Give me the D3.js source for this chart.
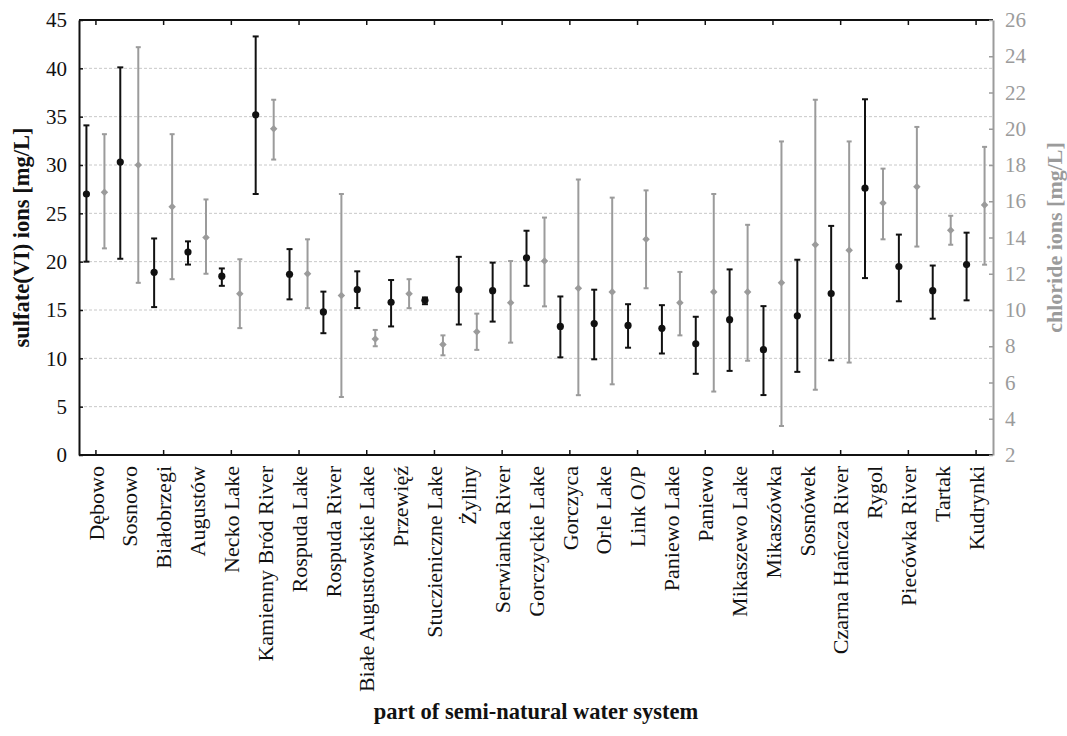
<!DOCTYPE html>
<html>
<head>
<meta charset="utf-8">
<script src="https://cdn.jsdelivr.net/npm/d3@7"></script>
<style>
  body { margin: 0; background: #fff; }
  svg text { font-family: "Liberation Serif", "Times New Roman", serif; }
</style>
</head>
<body>
<div id="chart"></div>
<script>
var categories = ['Dębowo', 'Sosnowo', 'Białobrzegi', 'Augustów', 'Necko Lake', 'Kamienny Bród River',
  'Rospuda Lake', 'Rospuda River', 'Białe Augustowskie Lake', 'Przewięź', 'Stuczieniczne Lake', 'Żyliny',
  'Serwianka River', 'Gorczyckie Lake', 'Gorczyca', 'Orle Lake', 'Link O/P', 'Paniewo Lake', 'Paniewo',
  'Mikaszewo Lake', 'Mikaszówka', 'Sosnówek', 'Czarna Hańcza River', 'Rygol', 'Piecówka River', 'Tartak', 'Kudrynki']

var sulfateMean = [27.0, 30.3, 18.9, 21.0, 18.5, 35.2, 18.7, 14.8, 17.1, 15.8, 16.0, 17.1, 17.0, 20.4,
  13.3, 13.6, 13.4, 13.1, 11.5, 14.0, 10.9, 14.4, 16.7, 27.6, 19.5, 17.0, 19.7]
var sulfateLow = [20.0, 20.3, 15.3, 19.7, 17.5, 27.0, 16.1, 12.6, 15.2, 13.3, 15.6, 13.5, 13.8, 17.5,
  10.1, 9.9, 11.1, 10.5, 8.4, 8.7, 6.2, 8.6, 9.8, 18.3, 15.9, 14.1, 16.0]
var sulfateHigh = [34.1, 40.1, 22.4, 22.1, 19.3, 43.3, 21.3, 16.9, 19.0, 18.1, 16.3, 20.5, 19.9, 23.2,
  16.4, 17.1, 15.6, 15.5, 14.3, 19.2, 15.4, 20.2, 23.7, 36.8, 22.8, 19.6, 23.0]

var chlorideMean = [16.5, 18.0, 15.7, 14.0, 10.9, 20.0, 12.0, 10.8, 8.4, 10.9, 8.1, 8.8, 10.4, 12.7,
  11.2, 11.0, 13.9, 10.4, 11.0, 11.0, 11.5, 13.6, 13.3, 15.9, 16.8, 14.4, 15.8]
var chlorideLow = [13.4, 11.5, 11.7, 12.0, 9.0, 18.3, 10.1, 5.2, 8.0, 10.1, 7.5, 7.8, 8.2, 10.2,
  5.3, 5.9, 11.2, 8.6, 5.5, 7.2, 3.6, 5.6, 7.1, 13.9, 13.5, 13.6, 12.5]
var chlorideHigh = [19.7, 24.5, 19.7, 16.1, 12.8, 21.6, 13.9, 16.4, 8.9, 11.7, 8.6, 9.8, 12.7, 15.1,
  17.2, 16.2, 16.6, 12.1, 16.4, 14.7, 19.3, 21.6, 19.3, 17.8, 20.1, 15.2, 19.0]

var leftTicks = [0, 5, 10, 15, 20, 25, 30, 35, 40, 45]
var rightTicks = [2, 4, 6, 8, 10, 12, 14, 16, 18, 20, 22, 24, 26]

var margin = {top: 20, right: 74, bottom: 281, left: 79}
var width = 1067 - margin.left - margin.right,
    height = 736 - margin.top - margin.bottom

var black = '#111', grey = '#9b9b9b'

var svg = d3.select('#chart').append('svg')
  .attr('width', 1067)
  .attr('height', 736)
  .append('g')
  .attr('transform', 'translate(' + margin.left + ',' + margin.top + ')')

var x = d3.scalePoint().domain(categories).range([0, width]).padding(0.5)
var yLeft = d3.scaleLinear().domain([0, 45]).range([height, 0])
var yRight = d3.scaleLinear().domain([2, 26]).range([height, 0])

// grid
svg.append('g')
  .selectAll('line')
  .data(leftTicks.filter(d => d > 0 && d < 45))
  .enter().append('line')
  .attr('x1', 0).attr('x2', width)
  .attr('y1', d => yLeft(d)).attr('y2', d => yLeft(d))
  .attr('stroke', '#c8c8c8')
  .attr('stroke-width', 1)
  .attr('stroke-dasharray', '3,2')

// frame top + bottom
svg.append('line').attr('x1', 0).attr('x2', width).attr('y1', 0).attr('y2', 0)
  .attr('stroke', black).attr('stroke-width', 2)
svg.append('line').attr('x1', 0).attr('x2', width).attr('y1', height).attr('y2', height)
  .attr('stroke', black).attr('stroke-width', 2)

// x ticks on every second category, inward top and bottom
var tickCats = categories.filter((d, i) => i % 2 === 0)
svg.append('g').selectAll('line').data(tickCats).enter().append('line')
  .attr('x1', d => x(d)).attr('x2', d => x(d))
  .attr('y1', height).attr('y2', height - 5)
  .attr('stroke', black).attr('stroke-width', 1.5)
svg.append('g').selectAll('line').data(tickCats).enter().append('line')
  .attr('x1', d => x(d)).attr('x2', d => x(d))
  .attr('y1', 0).attr('y2', 5)
  .attr('stroke', black).attr('stroke-width', 1.5)

// left axis
var yAxisLeft = d3.axisLeft(yLeft).tickValues(leftTicks).tickSizeInner(-4).tickSizeOuter(0).tickPadding(12)
var gl = svg.append('g').attr('class', 'axis y-axis').call(yAxisLeft)
gl.select('.domain').attr('stroke', black).attr('stroke-width', 2)
gl.selectAll('.tick line').attr('stroke', black).attr('stroke-width', 1.5)
gl.selectAll('.tick text').attr('font-size', 21).attr('fill', '#111')
  .style('font-family', '"Liberation Serif", serif')

// right axis
var yAxisRight = d3.axisRight(yRight).tickValues(rightTicks).tickSizeInner(-4).tickSizeOuter(0).tickPadding(12)
var gr = svg.append('g').attr('class', 'axis y-axis-right')
  .attr('transform', 'translate(' + width + ',0)')
  .call(yAxisRight)
gr.select('.domain').attr('stroke', grey).attr('stroke-width', 2)
gr.selectAll('.tick line').attr('stroke', grey).attr('stroke-width', 1.5)
gr.selectAll('.tick text').attr('font-size', 21).attr('fill', grey)
  .style('font-family', '"Liberation Serif", serif')

// category labels
svg.append('g').selectAll('text').data(categories).enter().append('text')
  .attr('transform', d => 'translate(' + x(d) + ',' + (height + 11) + ') rotate(-90)')
  .attr('text-anchor', 'end')
  .attr('dy', '0.35em')
  .attr('font-size', 22)
  .attr('fill', '#111')
  .text(d => d)

// series rows
var rows = categories.map(function (c, i) {
  return {
    cat: c,
    s: sulfateMean[i], sLo: sulfateLow[i], sHi: sulfateHigh[i],
    c: chlorideMean[i], cLo: chlorideLow[i], cHi: chlorideHigh[i]
  }
})

var offS = -9.5, offC = 8.5

// chloride (grey) error bars + diamonds
var gC = svg.append('g').selectAll('g').data(rows).enter().append('g')
  .attr('transform', d => 'translate(' + (x(d.cat) + offC) + ',0)')
gC.append('line')
  .attr('y1', d => yRight(d.cLo)).attr('y2', d => yRight(d.cHi))
  .attr('stroke', grey).attr('stroke-width', 2)
gC.append('line')
  .attr('x1', -2.5).attr('x2', 2.5)
  .attr('y1', d => yRight(d.cHi)).attr('y2', d => yRight(d.cHi))
  .attr('stroke', grey).attr('stroke-width', 2)
gC.append('line')
  .attr('x1', -2.5).attr('x2', 2.5)
  .attr('y1', d => yRight(d.cLo)).attr('y2', d => yRight(d.cLo))
  .attr('stroke', grey).attr('stroke-width', 2)
gC.append('path')
  .attr('d', d3.symbol().type(d3.symbolDiamond2).size(36))
  .attr('transform', d => 'translate(0,' + yRight(d.c) + ')')
  .attr('fill', grey)

// sulfate (black) error bars + dots
var gS = svg.append('g').selectAll('g').data(rows).enter().append('g')
  .attr('transform', d => 'translate(' + (x(d.cat) + offS) + ',0)')
gS.append('line')
  .attr('y1', d => yLeft(d.sLo)).attr('y2', d => yLeft(d.sHi))
  .attr('stroke', black).attr('stroke-width', 2)
gS.append('line')
  .attr('x1', -3).attr('x2', 3)
  .attr('y1', d => yLeft(d.sHi)).attr('y2', d => yLeft(d.sHi))
  .attr('stroke', black).attr('stroke-width', 2)
gS.append('line')
  .attr('x1', -3).attr('x2', 3)
  .attr('y1', d => yLeft(d.sLo)).attr('y2', d => yLeft(d.sLo))
  .attr('stroke', black).attr('stroke-width', 2)
gS.append('circle')
  .attr('cy', d => yLeft(d.s))
  .attr('r', 3.6)
  .attr('fill', black)

// axis titles
svg.append('text')
  .attr('transform', 'translate(' + (-50.5) + ',' + (height / 2) + ') rotate(-90)')
  .attr('text-anchor', 'middle')
  .attr('font-size', 22.5)
  .attr('font-weight', 'bold')
  .attr('fill', '#111')
  .text('sulfate(VI) ions [mg/L]')

svg.append('text')
  .attr('transform', 'translate(' + (width + 68.5) + ',' + (height / 2) + ') rotate(-90)')
  .attr('text-anchor', 'middle')
  .attr('font-size', 22)
  .attr('font-weight', 'bold')
  .attr('fill', grey)
  .text('chloride ions [mg/L]')

svg.append('text')
  .attr('x', width / 2)
  .attr('y', height + 264)
  .attr('text-anchor', 'middle')
  .attr('font-size', 22.5)
  .attr('font-weight', 'bold')
  .attr('fill', '#111')
  .text('part of semi-natural water system')
</script>
</body>
</html>
